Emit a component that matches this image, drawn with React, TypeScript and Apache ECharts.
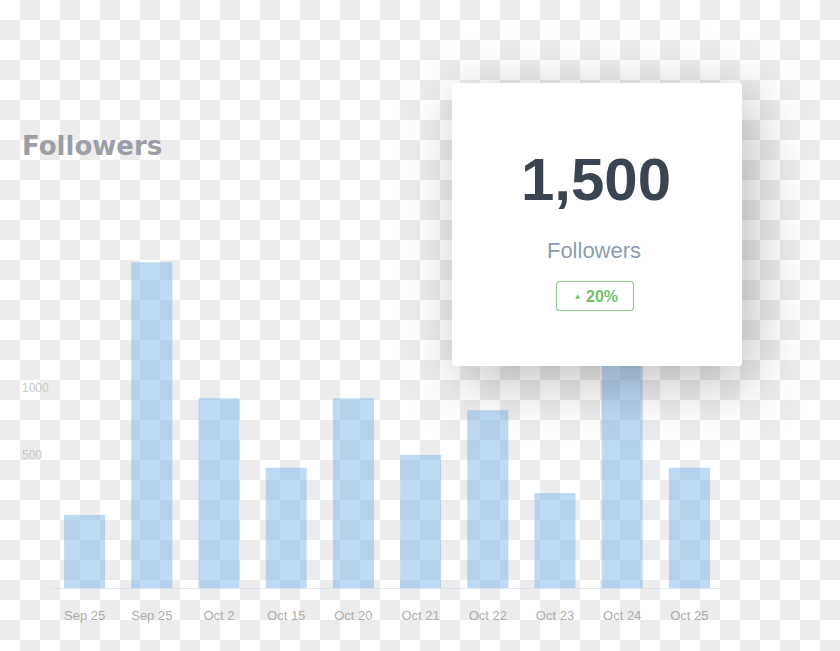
import { useEffect, useRef } from "react";
import * as echarts from "echarts";

// categories and follower counts per day
const days = [
  "Sep 25",
  "Sep 25",
  "Oct 2",
  "Oct 15",
  "Oct 20",
  "Oct 21",
  "Oct 22",
  "Oct 23",
  "Oct 24",
  "Oct 25",
];
const followers = [274, 1222, 712, 451, 712, 499, 667, 356, 1500, 451];

// y tick labels by tick index (ticks every 250)
const yTickLabels = ["", "", "500", "1000", "", "", ""];

const headline = "1,500";
const headlineLabel = "Followers";
const change = "20%";

const checker =
  "repeating-conic-gradient(#ececec 0% 25%, #ffffff 0% 50%) 0 0 / 40px 40px";

function App() {
  const containerRef = useRef<HTMLDivElement>(null);

  useEffect(() => {
    if (!containerRef.current) return;
    const chart = echarts.init(containerRef.current, null, { renderer: "svg" });

    const cardZ = 100;

    chart.setOption({
      animation: false,
      backgroundColor: "transparent",
      grid: { left: 51, right: 117, top: 188, bottom: 63 },
      xAxis: {
        type: "category",
        data: days,
        axisLine: {
          show: true,
          lineStyle: { color: "#cfe2f6", type: "dotted", width: 1 },
        },
        axisTick: { show: false },
        axisLabel: {
          color: "#adadad",
          fontSize: 13,
          fontFamily: "Liberation Sans, Arial, sans-serif",
          margin: 21,
        },
      },
      yAxis: {
        type: "value",
        min: 0,
        max: 1500,
        interval: 250,
        splitLine: { show: false },
        axisLine: { show: false },
        axisTick: { show: false },
        axisLabel: {
          color: "#c9c9c9",
          fontSize: 12,
          fontFamily: "Liberation Sans, Arial, sans-serif",
          align: "left",
          margin: 29,
          formatter: (v: number) => yTickLabels[Math.round(v / 250)] ?? "",
        },
      },
      series: [
        {
          type: "bar",
          data: followers,
          barWidth: 41,
          itemStyle: { color: "rgba(125,179,231,0.5)" },
          z: 2,
        },
      ],
      graphic: [
        {
          type: "text",
          left: 22,
          top: 133,
          style: {
            text: "Followers",
            fill: "#9b9fa5",
            font: "bold 26px 'DejaVu Sans', sans-serif",
          },
        },
        {
          type: "rect",
          z: cardZ,
          shape: { x: 452, y: 83, width: 290, height: 283, r: 4 },
          style: {
            fill: "#ffffff",
            shadowBlur: 60,
            shadowColor: "rgba(0,0,0,0.26)",
            shadowOffsetX: 10,
            shadowOffsetY: 14,
          },
        },
        {
          type: "text",
          z: cardZ + 1,
          x: 596,
          y: 179,
          style: {
            text: headline,
            fill: "#3b4451",
            font: "bold 60px 'Liberation Sans', Arial, sans-serif",
            align: "center",
            verticalAlign: "middle",
          },
        },
        {
          type: "text",
          z: cardZ + 1,
          x: 594,
          y: 250,
          style: {
            text: headlineLabel,
            fill: "#8e9cb1",
            font: "22px 'Liberation Sans', Arial, sans-serif",
            align: "center",
            verticalAlign: "middle",
          },
        },
        {
          type: "rect",
          z: cardZ + 1,
          shape: { x: 556.5, y: 281.5, width: 77, height: 29, r: 3 },
          style: { fill: "#ffffff", stroke: "#8fcf8b", lineWidth: 1.2 },
        },
        {
          type: "text",
          z: cardZ + 2,
          x: 577.5,
          y: 295,
          style: {
            text: "▲",
            fill: "#72c06e",
            font: "6px 'DejaVu Sans', sans-serif",
            align: "center",
            verticalAlign: "middle",
          },
        },
        {
          type: "text",
          z: cardZ + 2,
          x: 586,
          y: 296.5,
          style: {
            text: change,
            fill: "#72c06e",
            font: "bold 16px 'Liberation Sans', Arial, sans-serif",
            align: "left",
            verticalAlign: "middle",
          },
        },
      ],
    });

    return () => {
      chart.dispose();
    };
  }, []);

  return (
    <div
      ref={containerRef}
      style={{
        position: "absolute",
        left: 0,
        top: 0,
        width: 840,
        height: 651,
        background: checker,
      }}
    ></div>
  );
}

export default App;
